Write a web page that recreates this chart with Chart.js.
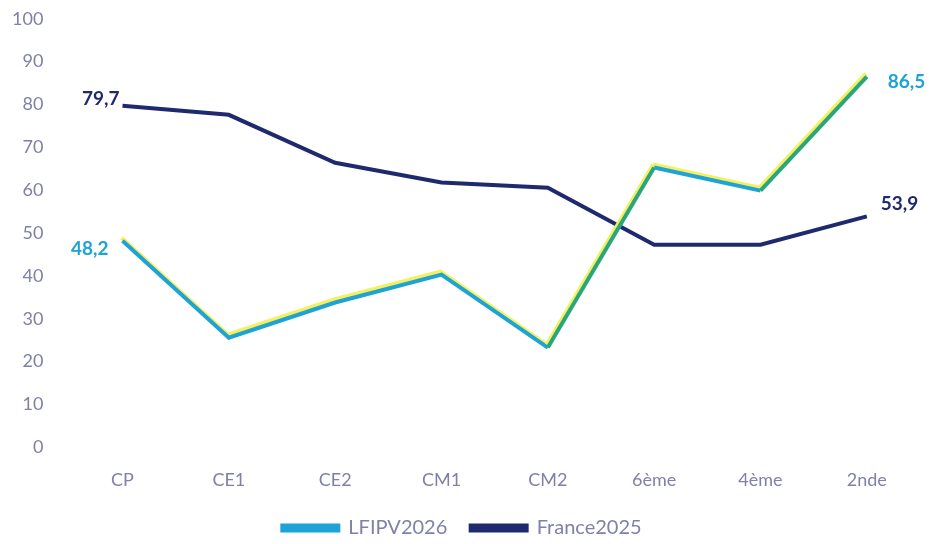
<!DOCTYPE html>
<html>
<head>
<meta charset="utf-8">
<script src="https://cdn.jsdelivr.net/npm/chart.js@4"></script>
<style>
  html, body { margin: 0; padding: 0; background: #fff; }
  #wrap { width: 934px; height: 544px; position: relative; }
</style>
</head>
<body>
<div id="wrap"><canvas id="graphique"></canvas></div>
<script>
const niveaux = ['CP', 'CE1', 'CE2', 'CM1', 'CM2', '6ème', '4ème', '2nde'];
const lfipv2026 = [48.2, 25.6, 33.8, 40.3, 23.3, 65.3, 59.9, 86.5];
const france2025 = [79.7, 77.6, 66.4, 61.8, 60.6, 47.3, 47.3, 53.9];
const ticksY = [0, 10, 20, 30, 40, 50, 60, 70, 80, 90, 100];

const cyan = '#1ea3d6';
const vert = '#2aa67c';
const marine = '#1f2a6e';
const gris = '#8080a8';
const police = 'Lato, "Open Sans", sans-serif';

// segments verts : CM2 -> 6ème et 4ème -> 2nde
const segmentsVerts = [4, 6];

const ombreJaune = {
    id: 'ombreJaune',
    beforeDatasetDraw(chart, args) {
        if (args.index !== 0) return;
        const c = chart.ctx;
        c.save();
        c.shadowColor = '#f4f060';
        c.shadowOffsetX = -1;
        c.shadowOffsetY = -3;
        c.shadowBlur = 0;
    },
    afterDatasetDraw(chart, args) {
        if (args.index !== 0) return;
        chart.ctx.restore();
    }
};

const etiquettes = {
    id: 'etiquettes',
    afterDatasetsDraw(chart) {
        const c = chart.ctx;
        c.save();
        c.font = 'bold 19px ' + police;
        c.textBaseline = 'middle';
        const fmt = v => v.toFixed(1).replace('.', ',');
        chart.data.datasets.forEach((ds, i) => {
            const pts = chart.getDatasetMeta(i).data;
            const premier = pts[0], dernier = pts[pts.length - 1];
            const fin = ds.data[ds.data.length - 1];
            c.fillStyle = i === 0 ? cyan : marine;
            c.textAlign = 'right';
            if (i === 0) {
                c.fillText(fmt(ds.data[0]), premier.x - 14, premier.y + 8);
            } else {
                c.fillText(fmt(ds.data[0]), premier.x - 3, premier.y - 7);
            }
            c.textAlign = 'left';
            if (i === 0) {
                c.fillText(fmt(fin), dernier.x + 21, dernier.y + 5);
            } else {
                c.fillText(fmt(fin), dernier.x + 14, dernier.y - 13);
            }
        });
        c.restore();
    }
};

new Chart(document.getElementById('graphique'), {
    type: 'line',
    data: {
        labels: niveaux,
        datasets: [{
            label: 'LFIPV2026',
            data: lfipv2026,
            borderColor: cyan,
            backgroundColor: cyan,
            borderWidth: 4,
            pointRadius: 0,
            pointHoverRadius: 0,
            tension: 0,
            segment: {
                borderColor: ctx => segmentsVerts.includes(ctx.p0DataIndex) ? vert : cyan
            }
        }, {
            label: 'France2025',
            data: france2025,
            borderColor: marine,
            backgroundColor: marine,
            borderWidth: 4,
            pointRadius: 0,
            pointHoverRadius: 0,
            tension: 0
        }]
    },
    options: {
        responsive: true,
        maintainAspectRatio: false,
        animation: false,
        layout: { autoPadding: false, padding: { left: 4, right: 14, top: 0, bottom: -4 } },
        plugins: {
            legend: {
                display: true,
                position: 'bottom',
                labels: {
                    boxWidth: 56,
                    boxHeight: 5,
                    color: gris,
                    padding: 8,
                    font: { family: police, size: 20 },
                    // un peu d'espace entre les deux entrées
                    generateLabels: chart => {
                        const items = Chart.defaults.plugins.legend.labels.generateLabels(chart);
                        items.forEach((it, i) => { if (i < items.length - 1) it.text += '   '; });
                        return items;
                    }
                }
            },
            tooltip: { enabled: false }
        },
        scales: {
            x: {
                offset: true,
                grid: { display: false, drawTicks: true, tickLength: 3 },
                border: { display: false },
                ticks: {
                    color: gris,
                    padding: 19,
                    font: { family: police, size: 18 }
                }
            },
            y: {
                min: 0,
                max: 100,
                afterBuildTicks: axis => { axis.ticks = ticksY.map(v => ({ value: v })); },
                grid: { display: false, drawTicks: true, tickLength: 18 },
                border: { display: false },
                ticks: {
                    color: gris,
                    padding: 8,
                    font: { family: police, size: 18 }
                }
            }
        }
    },
    plugins: [ombreJaune, etiquettes]
});
</script>
</body>
</html>
